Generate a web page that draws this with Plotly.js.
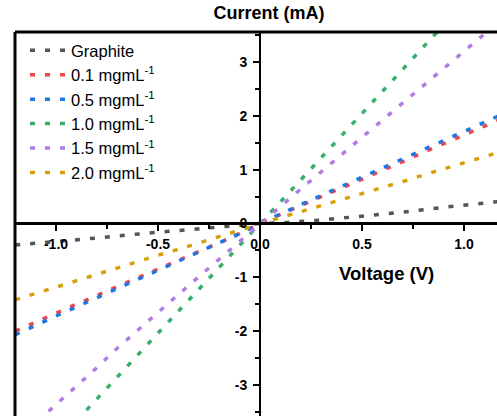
<!DOCTYPE html>
<html>
<head>
<meta charset="utf-8">
<script src="https://cdn.plot.ly/plotly-3.0.1.min.js"></script>
<style>html,body{margin:0;padding:0;background:#fff;}#chart{width:497px;height:416px;}</style>
</head>
<body>
<div id="chart"></div>
<script>
const voltage = [-1.2,-1.1,-1.0,-0.9,-0.8,-0.7,-0.6,-0.5,-0.4,-0.3,-0.2,-0.1,0,0.1,0.2,0.3,0.4,0.5,0.6,0.7,0.8,0.9,1.0,1.1,1.2];
const graphite = [-0.40,-0.37,-0.335,-0.305,-0.27,-0.23,-0.195,-0.165,-0.135,-0.105,-0.07,-0.035,0,0.01,0.03,0.065,0.10,0.145,0.175,0.21,0.26,0.30,0.34,0.38,0.42];
const c01 = [-2.00,-1.83,-1.67,-1.50,-1.34,-1.17,-1.01,-0.85,-0.68,-0.52,-0.36,-0.19,0,0.17,0.34,0.50,0.66,0.82,0.99,1.15,1.32,1.48,1.64,1.80,1.97];
const c05 = [-2.07,-1.89,-1.72,-1.55,-1.38,-1.21,-1.04,-0.87,-0.70,-0.53,-0.36,-0.19,0,0.18,0.35,0.52,0.69,0.86,1.03,1.20,1.37,1.54,1.71,1.88,2.05];
const c10 = [-4.90,-4.50,-4.08,-3.67,-3.26,-2.85,-2.44,-2.03,-1.62,-1.22,-0.81,-0.41,0,0.40,0.81,1.22,1.64,2.05,2.46,2.87,3.28,3.69,4.10,4.51,4.92];
const c15 = [-4.05,-3.71,-3.37,-3.03,-2.68,-2.32,-1.98,-1.65,-1.32,-0.99,-0.66,-0.33,0,0.32,0.64,0.96,1.28,1.60,1.92,2.24,2.56,2.88,3.20,3.52,3.84];
const c20 = [-1.42,-1.30,-1.18,-1.06,-0.95,-0.83,-0.71,-0.59,-0.48,-0.36,-0.24,-0.12,0,0.11,0.22,0.33,0.44,0.56,0.67,0.78,0.90,1.01,1.13,1.24,1.36];

const xTickVals = [-1.0,-0.5,0,0.5,1.0];
const xTickText = ['-1.0','-0.5','0.0','0.5','1.0'];
const yTickVals = [-3,-2,-1,0,1,2,3];
const yTickText = ['-3','-2','-1','0','1','2','3'];

const names = ['Graphite','0.1 mgmL<sup>-1</sup>','0.5 mgmL<sup>-1</sup>','1.0 mgmL<sup>-1</sup>','1.5 mgmL<sup>-1</sup>','2.0 mgmL<sup>-1</sup>'];
const series = [graphite, c01, c05, c10, c15, c20];
const colors = ['#555555','#F0454E','#1F77E4','#3AAE6B','#B07EE2','#D6A00A'];

const traces = series.map((s, i) => ({
  x: voltage, y: s, type: 'scatter', mode: 'lines', name: names[i],
  line: {color: colors[i], width: 3.5, dash: '5px,10px'}
}));

const xr = [-1.201, 1.162];
const yr = [-3.578, 3.559];
const tickFont = {family: 'Liberation Sans, Arial, sans-serif', size: 14, weight: 'bold', color: '#000'};

const layout = {
  width: 497, height: 416,
  margin: {l: 15, r: 0, t: 32, b: 0, pad: 0},
  paper_bgcolor: '#fff', plot_bgcolor: '#fff',
  showlegend: true,
  title: {text: '<b>Current (mA)</b>', font: {family: 'Liberation Sans, Arial, sans-serif', size: 18, color: '#000'},
          x: 269/497, xref: 'container', xanchor: 'center', y: 1 - 13/416, yref: 'container', yanchor: 'middle'},
  xaxis: {
    range: xr, anchor: 'free', position: (0 - yr[0])/(yr[1]-yr[0]),
    showline: true, linecolor: '#000', linewidth: 2.5,
    ticks: 'outside', ticklen: 6, tickwidth: 2, tickcolor: '#000',
    tickmode: 'array', tickvals: xTickVals, ticktext: xTickText, ticklabelstandoff: 1,
    showgrid: false, zeroline: false, tickfont: tickFont,
    minor: {ticks: 'outside', ticklen: 4, tickwidth: 2, tickcolor: '#000', tick0: 0, dtick: 0.25, showgrid: false}
  },
  yaxis: {
    range: yr, anchor: 'free', position: (0 - xr[0])/(xr[1]-xr[0]),
    showline: true, linecolor: '#000', linewidth: 2.5,
    ticks: 'outside', ticklen: 6, tickwidth: 2, tickcolor: '#000',
    tickmode: 'array', tickvals: yTickVals, ticktext: yTickText, ticklabelstandoff: 3,
    showgrid: false, zeroline: false, tickfont: tickFont,
    minor: {ticks: 'outside', ticklen: 4, tickwidth: 2, tickcolor: '#000', tick0: 0, dtick: 0.5, showgrid: false}
  },
  legend: {
    x: 10/482, y: 1 - 1/384, xanchor: 'left', yanchor: 'top',
    bgcolor: 'rgba(0,0,0,0)', borderwidth: 0,
    font: {family: 'Liberation Sans, Arial, sans-serif', size: 16.5, color: '#000'},
    itemwidth: 36, traceorder: 'normal'
  },
  annotations: [{
    text: '<b>Voltage (V)</b>', xref: 'paper', yref: 'paper',
    x: (386 - 15)/482, y: (416 - 273)/384, xanchor: 'center', yanchor: 'middle',
    showarrow: false, font: {family: 'Liberation Sans, Arial, sans-serif', size: 18.5, color: '#000'}
  }],
  shapes: [
    {type: 'line', xref: 'paper', yref: 'paper', x0: 0, x1: 0, y0: 0, y1: 1, line: {color: '#000', width: 3}, layer: 'above'},
    {type: 'line', xref: 'paper', yref: 'paper', x0: 0, x1: 1, y0: 1, y1: 1, line: {color: '#000', width: 3}, layer: 'above'}
  ]
};

Plotly.newPlot('chart', traces, layout, {displayModeBar: false, staticPlot: true});
</script>
</body>
</html>
